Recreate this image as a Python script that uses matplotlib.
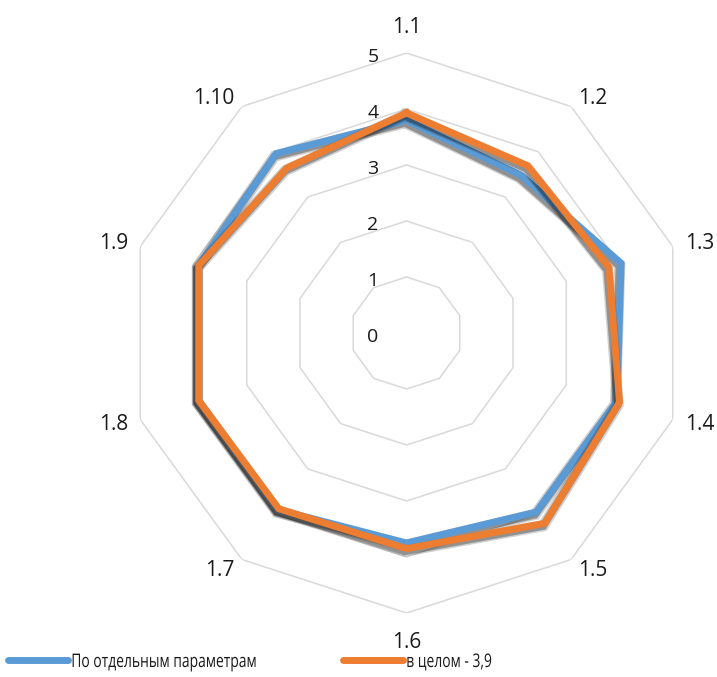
import numpy as np
import matplotlib
matplotlib.use("Agg")
import matplotlib.pyplot as plt
import matplotlib.patheffects as pe
from matplotlib.lines import Line2D
from matplotlib.transforms import Affine2D

categories = ["1.1", "1.2", "1.3", "1.4", "1.5", "1.6", "1.7", "1.8", "1.9", "1.10"]
series_names = ["По отдельным параметрам", "в целом - 3,9"]
blue_vals = [3.8, 3.48, 4.03, 3.95, 3.95, 3.75, 3.9, 3.9, 3.9, 3.96]
orange_vals = [3.93, 3.69, 3.8, 4.0, 4.2, 3.85, 3.88, 3.9, 3.9, 3.64]
ring_levels = [0, 1, 2, 3, 4, 5]

colors = ["#5B9BD5", "#ED7D31"]
grid_color = "#D9D9D9"
text_color = "#1a1a1a"

plt.rcParams['font.family'] = ['Open Sans', 'DejaVu Sans']


class Condense(pe.AbstractPathEffect):
    """Draw text horizontally compressed about its left origin."""
    def __init__(self, sx):
        super().__init__()
        self.sx = sx

    def draw_path(self, renderer, gc, tpath, affine, rgbFace=None):
        renderer.draw_path(gc, tpath, Affine2D().scale(self.sx, 1) + affine, rgbFace)


W, H = 717, 677
PX = 0.72  # points per pixel at dpi 100
fig = plt.figure(figsize=(W / 100, H / 100), dpi=100)
cx, cy, R = 406.5, 333, 280
ax = fig.add_axes([(cx - R) / W, (H - cy - R) / H, 2 * R / W, 2 * R / H], projection='polar')
ax.set_theta_zero_location('N')
ax.set_theta_direction(-1)
ax.set_ylim(0, 5)
ax.grid(False)
ax.spines['polar'].set_visible(False)
ax.set_xticks([])
ax.set_yticks([])
ax.patch.set_alpha(0)

n = len(categories)
theta = np.linspace(0, 2 * np.pi, n, endpoint=False)
theta_c = np.append(theta, theta[0])

for lv in ring_levels[1:]:
    ax.plot(theta_c, [lv] * (n + 1), color=grid_color, lw=1.1, zorder=1)

shadow = [pe.SimpleLineShadow(offset=(-1.0, -1.8), shadow_color='black', alpha=0.18, linewidth=8),
          pe.SimpleLineShadow(offset=(-1.2, -2.0), shadow_color='black', alpha=0.3, linewidth=5.5),
          pe.Normal()]
for vals, col, name in zip([blue_vals, orange_vals], colors, series_names):
    v = np.append(vals, vals[0])
    ax.plot(theta_c, v, color=col, lw=5, solid_joinstyle='miter', zorder=3,
            path_effects=shadow, label=name)

# category label placement (pixel offsets from the outer ring vertex)
label_style = [("center", 0, -28), ("left", 7, -10), ("left", 12, -5.5), ("left", 12, 2.5),
               ("left", 7, 8.5), ("center", 0, 27), ("right", -7, 8.5), ("right", -12, 2.5),
               ("right", -12, -5.5), ("right", -8, -10)]
for t, lab, (ha, dx, dy) in zip(theta, categories, label_style):
    ax.annotate(lab, xy=(t, ring_levels[-1]), xytext=(dx * PX, -dy * PX), textcoords='offset points',
                ha=ha, va='center_baseline', fontsize=15, color=text_color)

for lv in ring_levels:
    ax.annotate(str(lv), xy=(0, lv), xytext=(-33.5 * PX, -1.5 * PX), textcoords='offset points',
                ha='center', va='center_baseline', fontsize=14, color=text_color)

legend_x = [5, 340]
for name, col, lx in zip(series_names, colors, legend_x):
    h = Line2D([], [], color=col, lw=5, solid_capstyle='round')
    leg = fig.legend([h], [name], loc='center left', bbox_to_anchor=((lx + 2.5) / W, 1 - 662 / H),
                     frameon=False, prop={'family': ['Open Sans'], 'size': 13.5}, handlelength=3.2,
                     handletextpad=0.2, borderpad=0, borderaxespad=0, labelcolor=text_color)
    for txt in leg.get_texts():
        txt.set_path_effects([Condense(0.74)])

fig.savefig("out.png", dpi=100)
